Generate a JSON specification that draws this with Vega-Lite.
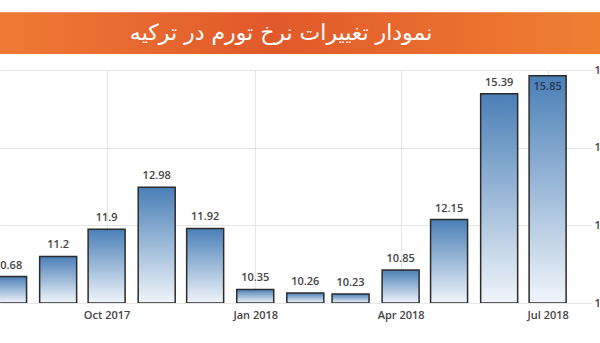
{
  "$schema": "https://vega.github.io/schema/vega-lite/v6.json",
  "width": 588,
  "height": 233,
  "autosize": {"type": "none"},
  "padding": {"left": 0, "top": 70, "right": 12, "bottom": 40},
  "background": "white",
  "config": {"view": {"stroke": null}},
  "data": {
    "values": [
      {"date": "2017-08-01T00:00", "value": 10.68},
      {"date": "2017-09-01T00:00", "value": 11.2},
      {"date": "2017-10-01T00:00", "value": 11.9},
      {"date": "2017-11-01T00:00", "value": 12.98},
      {"date": "2017-12-01T00:00", "value": 11.92},
      {"date": "2018-01-01T00:00", "value": 10.35},
      {"date": "2018-02-01T00:00", "value": 10.26},
      {"date": "2018-03-01T00:00", "value": 10.23},
      {"date": "2018-04-01T00:00", "value": 10.85},
      {"date": "2018-05-01T00:00", "value": 12.15},
      {"date": "2018-06-01T00:00", "value": 15.39},
      {"date": "2018-07-01T00:00", "value": 15.85}
    ]
  },
  "layer": [
    {
      "mark": {
        "type": "bar",
        "size": 37,
        "clip": true,
        "stroke": "#2b2b2b",
        "strokeWidth": 1.5,
        "fill": {
          "gradient": "linear",
          "x1": 0, "y1": 0, "x2": 0, "y2": 1,
          "stops": [
            {"offset": 0, "color": "#4a7fb7"},
            {"offset": 1, "color": "#f0f5fa"}
          ]
        }
      },
      "encoding": {
        "x": {
          "field": "date",
          "type": "temporal",
          "scale": {
            "padding": 0,
            "domain": [
              {"year": 2017, "month": 7, "date": 27},
              {"year": 2018, "month": 7, "date": 26}
            ]
          },
          "axis": {
            "title": null,
            "format": "%b %Y",
            "tickCount": {"interval": "month", "step": 3},
            "grid": true,
            "gridColor": "#e6e6e6",
            "domain": false,
            "ticks": false,
            "labelPadding": 6,
            "labelFont": "Open Sans",
            "labelFontSize": 11,
            "labelFontWeight": 600,
            "labelColor": "#444444"
          }
        },
        "y": {
          "field": "value",
          "type": "quantitative",
          "scale": {"domain": [10, 16], "zero": false, "nice": false},
          "axis": {
            "orient": "right",
            "title": null,
            "values": [10, 12, 14, 16],
            "grid": true,
            "gridColor": "#e6e6e6",
            "domain": false,
            "tickColor": "#e6e6e6",
            "tickSize": 4,
            "labelPadding": 2,
            "labelFont": "Open Sans",
            "labelFontSize": 11,
            "labelFontWeight": 600,
            "labelColor": "#444444"
          }
        },
        "y2": {"datum": 10}
      }
    },
    {
      "transform": [{"filter": "datum.value < 15.5"}],
      "mark": {
        "type": "text",
        "baseline": "bottom",
        "dy": -6,
        "font": "Open Sans",
        "fontSize": 11,
        "fontWeight": 600,
        "color": "#444444"
      },
      "encoding": {
        "x": {"field": "date", "type": "temporal"},
        "y": {"field": "value", "type": "quantitative"},
        "text": {"field": "value", "type": "quantitative", "format": ".2~f"}
      }
    },
    {
      "transform": [{"filter": "datum.value >= 15.5"}],
      "mark": {
        "type": "text",
        "baseline": "top",
        "dy": 5,
        "font": "Open Sans",
        "fontSize": 11,
        "fontWeight": 600,
        "color": "#2a3550"
      },
      "encoding": {
        "x": {"field": "date", "type": "temporal"},
        "y": {"field": "value", "type": "quantitative"},
        "text": {"field": "value", "type": "quantitative", "format": ".2~f"}
      }
    },
    {
      "data": {"values": [{"title": "نمودار تغییرات نرخ تورم در ترکیه"}]},
      "layer": [
        {
          "mark": {
            "type": "rect",
            "fill": {
              "gradient": "linear",
              "x1": 0, "y1": 0, "x2": 1, "y2": 0,
              "stops": [
                {"offset": 0, "color": "#ef7a35"},
                {"offset": 0.45, "color": "#e1592a"},
                {"offset": 1, "color": "#f07f32"}
              ]
            }
          },
          "encoding": {
            "x": {"datum": {"year": 2017, "month": 7, "date": 27}, "type": "temporal"},
            "x2": {"datum": {"year": 2018, "month": 8, "date": 3}},
            "y": {"datum": 16.41, "type": "quantitative"},
            "y2": {"datum": 17.49}
          }
        },
        {
          "mark": {
            "type": "text",
            "baseline": "middle",
            "align": "center",
            "font": "DejaVu Sans",
            "fontSize": 22,
            "color": "white"
          },
          "encoding": {
            "x": {"datum": {"year": 2018, "month": 1, "date": 17}, "type": "temporal"},
            "y": {"datum": 16.95, "type": "quantitative"},
            "text": {"field": "title"}
          }
        }
      ]
    }
  ]
}
